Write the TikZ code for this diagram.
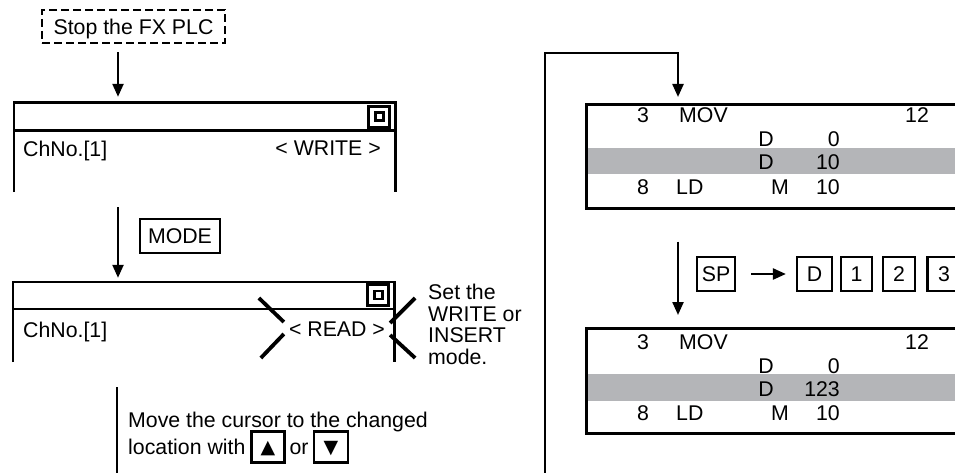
\documentclass[tikz,border=0pt]{standalone}
\usepackage{fontspec}
\setmainfont{Liberation Sans}
\newfontfamily\symfont{DejaVu Sans}
\usetikzlibrary{arrows.meta}
\definecolor{rowgray}{RGB}{180,181,184}

\begin{document}
\begin{tikzpicture}[x=1pt,y=-1pt,
  every node/.style={font=\fontsize{21.3}{21.5}\selectfont,inner sep=0pt},
  cell/.style={text height=15.2pt,text depth=0pt},
  keybox/.style={draw,line width=2.2pt,minimum width=33pt,minimum height=34pt,text height=15.2pt,text depth=0pt},
  screen/.style={line width=2.6pt},
  flow/.style={line width=2.3pt,-{Triangle[length=13pt,width=11pt]}},
  wire/.style={line width=2.3pt},
  cross/.style={line width=3.8pt},
  icon/.style={draw,line width=2.6pt}]
\useasboundingbox (0,0) rectangle (955,473);
\clip (0,0) rectangle (955,473);
\coordinate (colL) at (118,0);
\coordinate (colR) at (678,0);

% left column
\node[draw,dash pattern=on 8pt off 4pt,line width=2.2pt,minimum width=183pt,minimum height=33pt,cell] (stop) at (133.5,26.5) {Stop the FX PLC};

\node[minimum width=381pt,minimum height=89pt] (scrA) at (204.5,147.5) {};
\draw[screen] (scrA.south west) |- (scrA.north east) -- (scrA.south east);
\draw[screen] ([yshift=-28pt]scrA.north west) -- ([yshift=-28pt]scrA.north east);
\node[icon,minimum size=21pt] (icA) at ([xshift=-16pt,yshift=-14pt]scrA.north east) {};
\node[icon,minimum size=8pt] (icAin) at (icA.center) {};
\node[cell,anchor=west] (chA) at (23,149) {ChNo.[1]};
\node[cell,anchor=east] (wrA) at (381,148) {< WRITE >};

\node[keybox,minimum width=80pt] (kmode) at (180,236) {MODE};

\node[minimum width=381pt,minimum height=80pt] (scrB) at (203.5,322) {};
\draw[screen] (scrB.south west) |- (scrB.north east) -- (scrB.south east);
\draw[screen] ([yshift=-27pt]scrB.north west) -- ([yshift=-27pt]scrB.north east);
\node[icon,minimum size=21pt] (icB) at ([xshift=-16pt,yshift=-13pt]scrB.north east) {};
\node[icon,minimum size=8pt] (icBin) at (icB.center) {};
\node[cell,anchor=west] (chB) at (23,330) {ChNo.[1]};
\node[cell] (rdB) at (337,329) {< READ >};
\draw[cross] ([shift={(-30,-31)}]rdB.west) -- ([shift={(-5,-7)}]rdB.west);
\draw[cross] ([shift={(-5,5)}]rdB.west) -- ([shift={(-28,29)}]rdB.west);
\draw[cross] ([shift={(30,-31)}]rdB.east) -- ([shift={(5,-6)}]rdB.east);
\draw[cross] ([shift={(5,6)}]rdB.east) -- ([shift={(30,29)}]rdB.east);
\node[anchor=north west,align=left] (setnote) at (428,284) {Set the\\WRITE or\\INSERT\\mode.};

\node[cell,anchor=west] (mv1) at (128,420) {Move the cursor to the changed};
\node[cell,anchor=west] (mv2) at (128,447) {location with};
\node[keybox,minimum width=33pt,minimum height=31pt,font=\symfont\fontsize{19}{19}\selectfont,text height=13pt] (kup) at (268,447) {▲};
\node[cell] (mvor) at (299,447) {or};
\node[keybox,minimum width=34pt,minimum height=31pt,font=\symfont\fontsize{19}{19}\selectfont,text height=13pt] (kdn) at (331,447) {▼};

\draw[flow,shorten <=8pt,shorten >=6pt] (stop.south -| colL) -- (scrA.north -| colL);
\draw[flow,shorten <=15pt,shorten >=4pt] (scrA.south -| colL) -- (scrB.north -| colL);
\coordinate (mvtop) at (117,387);
\coordinate (mvbot) at (117,480);
\draw[wire] (mvtop) -- (mvbot);

% right column
\fill[rowgray] (585,148) rectangle (1000,174);
\fill[rowgray] (585,374) rectangle (1000,401);
\node[draw,line width=2.6pt,anchor=north west,minimum width=420pt,minimum height=104pt] (lst1) at (585,103) {};
\node[draw,line width=2.6pt,anchor=north west,minimum width=420pt,minimum height=105pt] (lst2) at (585,327) {};

\node[cell] (l1n3) at (643,115) {3};
\node[cell,anchor=west] (l1mov) at (679,115) {MOV};
\node[cell] (l1k) at (917,115) {12};
\node[cell] (l1d0) at (766,139) {D};
\node[cell,anchor=east] (l1v0) at (840,139) {0};
\node[cell] (l1d1) at (766,162) {D};
\node[cell,anchor=east] (l1v1) at (840,162) {10};
\node[cell] (l1n8) at (643,187) {8};
\node[cell,anchor=west] (l1ld) at (676,187) {LD};
\node[cell] (l1m) at (780,187) {M};
\node[cell,anchor=east] (l1v2) at (840,187) {10};

\node[cell] (l2n3) at (643,342) {3};
\node[cell,anchor=west] (l2mov) at (679,342) {MOV};
\node[cell] (l2k) at (917,342) {12};
\node[cell] (l2d0) at (766,366) {D};
\node[cell,anchor=east] (l2v0) at (840,366) {0};
\node[cell] (l2d1) at (766,389) {D};
\node[cell,anchor=east] (l2v1) at (840,389) {123};
\node[cell] (l2n8) at (643,413) {8};
\node[cell,anchor=west] (l2ld) at (676,413) {LD};
\node[cell] (l2m) at (780,413) {M};
\node[cell,anchor=east] (l2v2) at (840,413) {10};

\node[keybox,minimum width=38pt] (ksp) at (716,274) {SP};
\node[keybox,minimum width=35pt] (kd) at (814.5,274) {D};
\node[keybox,minimum width=31pt] (k1) at (856.5,274) {1};
\node[keybox,minimum width=32pt] (k2) at (899,274) {2};
\node[keybox] (k3) at (944,274) {3};
\draw[flow,shorten <=15pt,shorten >=10pt] (ksp.east) -- (kd.west);

\coordinate (loopbot) at (545,480);
\coordinate (looptop) at (545,53);
\draw[flow,shorten >=6pt] (loopbot) -- (looptop) -| (lst1.north -| colR);
\draw[flow,shorten <=32pt,shorten >=12pt] (lst1.south -| colR) -- (lst2.north -| colR);
\end{tikzpicture}
\end{document}
